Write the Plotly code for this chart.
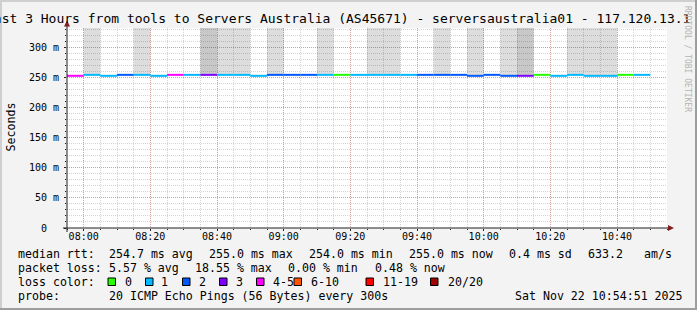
import plotly.graph_objects as go
import pandas as pd

# ---------------- data ----------------
DAY = "2025-11-22"
seg_start = ["07:55", "08:00", "08:05", "08:10", "08:15", "08:20", "08:25", "08:30", "08:35",
             "08:40", "08:45", "08:50", "08:55", "09:00", "09:05", "09:10", "09:15", "09:20",
             "09:25", "09:30", "09:35", "09:40", "09:45", "09:50", "09:55", "10:00", "10:05",
             "10:10", "10:15", "10:20", "10:25", "10:30", "10:35", "10:40", "10:45"]
seg_loss = [4, 1, 1, 2, 1, 1, 4, 1, 3, 1, 1, 1, 2, 2, 2, 1, 0, 1, 1, 1, 1, 2, 2, 2, 2, 2, 2,
            3, 0, 1, 1, 1, 1, 0, 1]
seg_median = [253.4, 255.0, 253.4, 255.0, 255.0, 253.4, 255.0, 255.0, 255.0, 255.0, 255.0,
              253.4, 255.0, 255.0, 255.0, 255.0, 255.0, 255.0, 255.0, 255.0, 255.0, 255.0,
              255.0, 255.0, 253.4, 255.0, 253.4, 253.4, 255.0, 253.4, 255.0, 253.4, 253.4,
              255.0, 255.0]
# smoke density per step (0 none, 1 light, 2 dense); the spread runs off the top of the scale
seg_smoke = [0, 1, 0, 0, 1, 0, 0, 0, 2, 1, 1, 0, 1, 0, 0, 1, 0, 0, 1, 1, 0, 0, 1, 0, 1, 0, 1,
             2, 0, 0, 1, 1, 1, 0, 0]
smoke_max_ms = 400
step_min = 5

x_range = ["07:55", "10:55"]
x_ticks = ["08:00", "08:20", "08:40", "09:00", "09:20", "09:40", "10:00", "10:20", "10:40"]
y_ticks = [0, 50, 100, 150, 200, 250, 300]
y_ticktext = ["0\u00a0\u00a0", "50 m", "100 m", "150 m", "200 m", "250 m", "300 m"]
y_max = 333

loss_labels = ["0", "1", "2", "3", "4-5", "6-10", "11-19", "20/20"]
loss_colors = ["#26ff00", "#00b8ff", "#0059ff", "#7e00ff", "#ff00ff", "#ff5500", "#ff0000", "#a10000"]

title = "Last 3 Hours from tools to Servers Australia (AS45671) - serversaustralia01 - 117.120.13.1"
stats_rtt = ["254.7 ms avg", "255.0 ms max", "254.0 ms min", "255.0 ms now", "0.4 ms sd", "633.2", "am/s"]
stats_loss = ["5.57 % avg", "18.55 % max", "0.00 % min", "0.48 % now"]
probe_text = "20 ICMP Echo Pings (56 Bytes) every 300s"
stamp_text = "Sat Nov 22 10:54:51 2025"

# ---------------- geometry ----------------
W, H = 697, 310
L, R, T, B = 67, 667, 28, 228
MONO = "DejaVu Sans Mono"


def px(x):
    return (x - L) / (R - L)


def py(y):
    return (B - y) / (B - T)


def bin_of(n):
    if n <= 3:
        return n
    if n <= 5:
        return 4
    if n <= 10:
        return 5
    if n <= 19:
        return 6
    return 7


t_start = pd.to_datetime([f"{DAY} {s}" for s in seg_start])
t_end = t_start + pd.Timedelta(minutes=step_min)
t_mid = t_start + pd.Timedelta(minutes=step_min / 2)

fig = go.Figure()

# smoke
light_idx = [i for i, s in enumerate(seg_smoke) if s >= 1]
dense_idx = [i for i, s in enumerate(seg_smoke) if s >= 2]
for idxs, col in [(light_idx, "rgba(0,0,0,0.135)"), (dense_idx, "rgba(0,0,0,0.095)")]:
    fig.add_trace(go.Bar(
        x=[t_mid[i] for i in idxs],
        y=[smoke_max_ms - seg_median[i] for i in idxs],
        base=[seg_median[i] for i in idxs],
        width=step_min * 60 * 1000,
        marker=dict(color=col, line=dict(width=0)),
        hoverinfo="skip", showlegend=False))

# median line coloured by loss
for b, col in enumerate(loss_colors):
    xs, ys = [], []
    for i, n in enumerate(seg_loss):
        if bin_of(n) == b:
            xs += [t_start[i], t_end[i], None]
            ys += [seg_median[i], seg_median[i], None]
    if xs:
        fig.add_trace(go.Scatter(x=xs, y=ys, mode="lines", line=dict(color=col, width=2),
                                 hoverinfo="skip", showlegend=False))

grid_minor = "rgba(150,150,150,0.4)"
grid_major = "rgba(222,80,80,0.42)"

fig.update_layout(
    width=W, height=H,
    margin=dict(l=L, r=W - R, t=T, b=H - B, pad=0),
    paper_bgcolor="#f3f3f3", plot_bgcolor="#ffffff",
    barmode="overlay", showlegend=False,
    font=dict(family=MONO, size=10, color="#000000"),
    xaxis=dict(
        type="date", range=[f"{DAY} {x_range[0]}", f"{DAY} {x_range[1]}"],
        tickmode="array", tickvals=[f"{DAY} {t}" for t in x_ticks], ticktext=x_ticks,
        showgrid=True, gridcolor=grid_major, griddash="1px,1px", gridwidth=1,
        ticks="outside", ticklen=2, tickcolor="#1f1f1f", ticklabelstandoff=-3,
        tickfont=dict(family=MONO, size=10, color="#000"),
        minor=dict(dtick=step_min * 60 * 1000, showgrid=True, gridcolor=grid_minor,
                   griddash="1px,1px", ticks="outside", ticklen=1, tickcolor="#1f1f1f"),
        showline=False, zeroline=False, fixedrange=True,
    ),
    yaxis=dict(
        range=[0, y_max], tickmode="array", tickvals=y_ticks, ticktext=y_ticktext,
        showgrid=True, gridcolor=grid_major, griddash="1px,1px", gridwidth=1,
        ticks="outside", ticklen=2, tickcolor="#1f1f1f", ticklabelstandoff=3,
        tickfont=dict(family=MONO, size=10, color="#000"),
        minor=dict(dtick=10, showgrid=True, gridcolor=grid_minor, griddash="1px,1px",
                   ticks="outside", ticklen=1, tickcolor="#1f1f1f"),
        showline=False, zeroline=False, fixedrange=True,
    ),
)

shapes = []
# frame shading
shapes.append(dict(type="rect", xref="paper", yref="paper", x0=px(0), x1=px(W), y0=py(0), y1=py(2),
                   fillcolor="#cfcfcf", line=dict(width=0), layer="above"))
shapes.append(dict(type="rect", xref="paper", yref="paper", x0=px(0), x1=px(2), y0=py(0), y1=py(H),
                   fillcolor="#cfcfcf", line=dict(width=0), layer="above"))
shapes.append(dict(type="rect", xref="paper", yref="paper", x0=px(W - 2), x1=px(W), y0=py(0), y1=py(H),
                   fillcolor="#9e9e9e", line=dict(width=0), layer="above"))
shapes.append(dict(type="rect", xref="paper", yref="paper", x0=px(0), x1=px(W), y0=py(H - 2), y1=py(H),
                   fillcolor="#9e9e9e", line=dict(width=0), layer="above"))
# axes
shapes.append(dict(type="line", xref="paper", yref="paper", x0=px(67), x1=px(67), y0=py(232), y1=py(24),
                   line=dict(color="#1f1f1f", width=1), layer="above"))
shapes.append(dict(type="line", xref="paper", yref="paper", x0=px(63), x1=px(669), y0=py(228), y1=py(228),
                   line=dict(color="#1f1f1f", width=1), layer="above"))
# arrows
shapes.append(dict(type="path", xref="paper", yref="paper",
                   path=f"M {px(64)} {py(26.5)} L {px(70)} {py(26.5)} L {px(67)} {py(20.5)} Z",
                   fillcolor="#7f1f1f", line=dict(width=0), layer="above"))
shapes.append(dict(type="path", xref="paper", yref="paper",
                   path=f"M {px(668)} {py(225)} L {px(668)} {py(231)} L {px(674)} {py(228)} Z",
                   fillcolor="#7f1f1f", line=dict(width=0), layer="above"))

annotations = []


def txt(s, x, y, size=11.6, anchor="left", color="#000", angle=0, family=MONO):
    annotations.append(dict(text=s.replace(" ", "\u00a0"), x=px(x), y=py(y), xref="paper", yref="paper",
                            xanchor=anchor, yanchor="middle", showarrow=False, textangle=angle,
                            font=dict(family=family, size=size, color=color)))


txt(title, -16, 18.5, size=13)
txt("RRDTOOL / TOBI OETIKER", 688, 59, size=8, anchor="center", color="#b4b4b4", angle=90)
txt("Seconds", 10, 127.5, size=11.6, anchor="center", angle=-90)

# legend rows
row_y = [254, 268, 282, 296]
txt("median rtt:", 16, row_y[0])
for s, x in zip(stats_rtt, [107.3, 206.7, 307.3, 406.7, 506.7, 586, 641.7]):
    txt(s, x, row_y[0])
txt("packet loss:", 16, row_y[1])
for s, x in zip(stats_loss, [107.3, 192.7, 286, 372.7]):
    txt(s, x, row_y[1])
txt("loss color:", 16, row_y[2])
box_x = [108, 145.5, 182.5, 219.5, 256.5, 294, 366, 430.5]
lab_x = [122.7, 159.3, 197.3, 234.3, 271, 309.3, 380.7, 446]
for lab, col, bx, lx in zip(loss_labels, loss_colors, box_x, lab_x):
    shapes.append(dict(type="rect", xref="paper", yref="paper", x0=px(bx), x1=px(bx + 7.5),
                       y0=py(285.5), y1=py(278), fillcolor=col, line=dict(color="#000", width=1),
                       layer="above"))
    txt(lab, lx, row_y[2])
txt("probe:", 16, row_y[3])
txt(probe_text, 107.3, row_y[3])
txt(stamp_text, 513.3, row_y[3])

fig.update_layout(shapes=shapes, annotations=annotations)
fig.write_html("out.html")
